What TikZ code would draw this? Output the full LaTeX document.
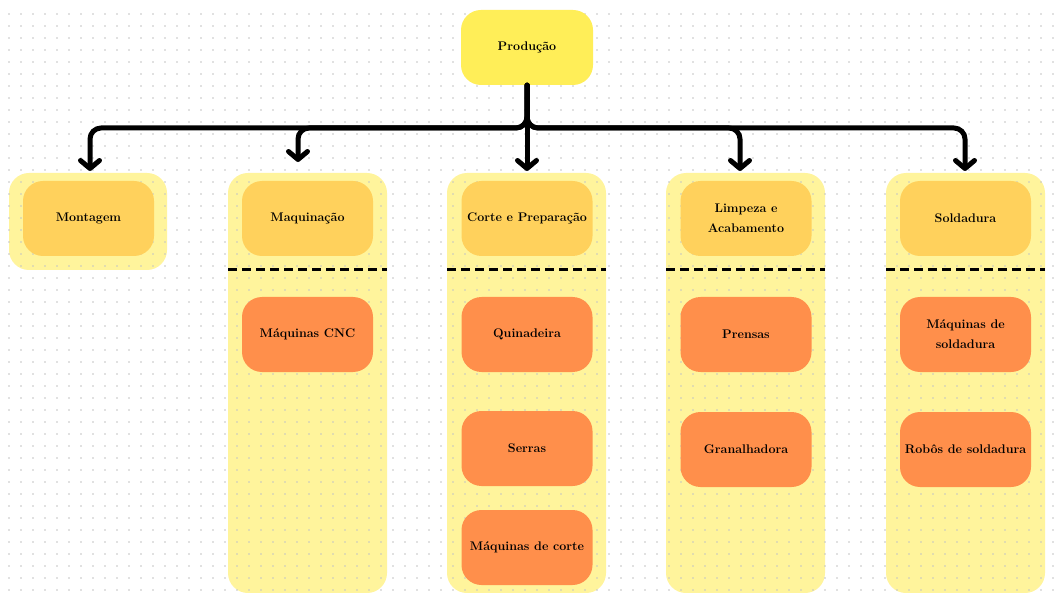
\documentclass[tikz,border=0pt]{standalone}
\usetikzlibrary{arrows.meta}
\definecolor{prodfill}{HTML}{FFEE58}
\definecolor{panelfill}{HTML}{FFF49C}
\definecolor{headfill}{HTML}{FFD15C}
\definecolor{itemfill}{HTML}{FF8F4B}
\definecolor{dotgray}{HTML}{C4C4C4}
\tikzset{
  box/.style={rectangle, rounded corners=20pt, minimum width=131pt, minimum height=75pt,
    inner sep=2pt, align=center, font=\fontsize{12.5}{20}\selectfont\bfseries, text=black},
  prodbox/.style={box, fill=prodfill, minimum width=132pt},
  headbox/.style={box, fill=headfill},
  itembox/.style={box, fill=itemfill},
  panel/.style={rectangle, rounded corners=20pt, fill=panelfill, minimum width=159pt, inner sep=0pt},
  sepline/.style={line width=3pt, dash pattern=on 9pt off 5pt},
  conn/.style={line width=5pt, rounded corners=11pt, line cap=round, line join=round,
    -{Straight Barb[length=8pt,width=19pt,line cap=round,line join=round]}},
}
\begin{document}
\begin{tikzpicture}[x=1pt,y=-1pt]
\useasboundingbox (0,0) rectangle (1062,593);
\fill[white] (0,0) rectangle (1062,593);

% column panels
\node[panel, minimum width=158pt, minimum height=97pt] (p1) at (88,221.5) {};
\node[panel, minimum height=420pt] (p2) at (307.5,383) {};
\node[panel, minimum height=420pt] (p3) at (526.5,383) {};
\node[panel, minimum height=420pt] (p4) at (745.5,383) {};
\node[panel, minimum height=420pt] (p5) at (965.5,383) {};

% dotted grid
\foreach \i in {0,...,87}{
  \foreach \j in {0,...,48}{
    \fill[dotgray] (9+12*\i,14+12*\j) circle (0.85pt);
  }
}

% separators under the column headers
\draw[sepline] (228,270) -- (387,270);
\draw[sepline] (447,270) -- (606,270);
\draw[sepline] (666,270) -- (825,270);
\draw[sepline] (886,270) -- (1045,270);

% top node
\node[prodbox] (prod) at (527,47.5) {Produção};

% column headers
\node[headbox] (h1) at (88.5,218.5) {Montagem};
\node[headbox] (h2) at (307.5,218.5) {Maquinação};
\node[headbox] (h3) at (527,218.5) {Corte e Preparação};
\node[headbox] (h4) at (746,218.5) {Limpeza e\\Acabamento};
\node[headbox] (h5) at (965.5,218.5) {Soldadura};

% equipment
\node[itembox] (m1) at (307.5,334.5) {Máquinas CNC};
\node[itembox] (c1) at (527,334.5) {Quinadeira};
\node[itembox] (c2) at (527,448.5) {Serras};
\node[itembox] (c3) at (527,547.5) {Máquinas de corte};
\node[itembox] (l1) at (746,334.5) {Prensas};
\node[itembox] (l2) at (746,449.5) {Granalhadora};
\node[itembox] (s1) at (965.5,334.5) {Máquinas de\\soldadura};
\node[itembox] (s2) at (965.5,449.5) {Robôs de soldadura};

% bus bends and arrow tips
\coordinate (b1) at (90,128);
\coordinate (b2) at (298,128);
\coordinate (b4) at (740,128);
\coordinate (b5) at (965,128);
\coordinate (t1) at (90,171);
\coordinate (t2) at (298,162);
\coordinate (t3) at (527,171);
\coordinate (t4) at (740,171);
\coordinate (t5) at (965,171);

\draw[conn] (prod.south) |- (b1) -- (t1);
\draw[conn] (prod.south) |- (b2) -- (t2);
\draw[conn] (prod.south) -- (t3);
\draw[conn] (prod.south) |- (b4) -- (t4);
\draw[conn] (prod.south) |- (b5) -- (t5);
\end{tikzpicture}
\end{document}
